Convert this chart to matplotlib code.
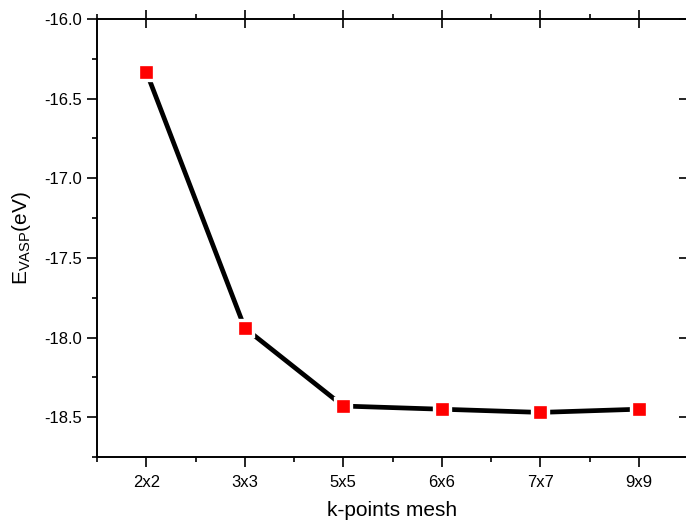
import numpy as np
import matplotlib.pyplot as plt
from matplotlib.ticker import MultipleLocator

plt.rcParams['font.family'] = ['Liberation Sans', 'DejaVu Sans']
plt.rcParams['mathtext.default'] = 'regular'

# k-point meshes and total energies
meshes = ['2x2', '3x3', '5x5', '6x6', '7x7', '9x9']
energies = [-16.33, -17.94, -18.43, -18.45, -18.47, -18.45]

fig = plt.figure(figsize=(6.86, 5.23), dpi=100)
ax = fig.add_axes([97 / 686, 66 / 523, 591 / 686, 438 / 523])

x = np.arange(1, len(meshes) + 1)
ax.plot(x, energies, color='black', lw=3.4, marker='s', ms=11.8,
        mfc='red', mec='white', mew=2.4, solid_capstyle='butt')

ax.set_xlim(0.5, 6.5)
ax.set_ylim(-18.75, -16.0)
ax.set_xticks(x)
ax.set_xticklabels(meshes)
ax.xaxis.set_minor_locator(MultipleLocator(0.5))
ax.yaxis.set_major_locator(MultipleLocator(0.5))
ax.yaxis.set_minor_locator(MultipleLocator(0.25))
ax.yaxis.set_major_formatter(plt.FormatStrFormatter('%.1f'))

for s in ax.spines.values():
    s.set_linewidth(1.4)

ax.tick_params(which='both', labelsize=12, width=1.2, top=True, right=True)
ax.tick_params(axis='x', which='major', bottom=True, direction='out', length=7, pad=6)
ax.tick_params(axis='y', which='major', direction='out', length=7, pad=4)
ax.tick_params(which='minor', direction='out', length=3.6)
for t in ax.xaxis.get_major_ticks():
    t.tick2line.set_marker('|')
    t.tick2line.set_markersize(13)
for t in ax.yaxis.get_major_ticks():
    t.tick2line.set_marker('_')
    t.tick2line.set_markersize(13)
for t in ax.yaxis.get_minor_ticks():
    t.tick2line.set_visible(False)

ax.set_xlabel('k-points mesh', fontsize=15, labelpad=8)
ax.set_ylabel('E$_{VASP}$(eV)', fontsize=15, labelpad=8)

fig.savefig('out.png', dpi=100)
